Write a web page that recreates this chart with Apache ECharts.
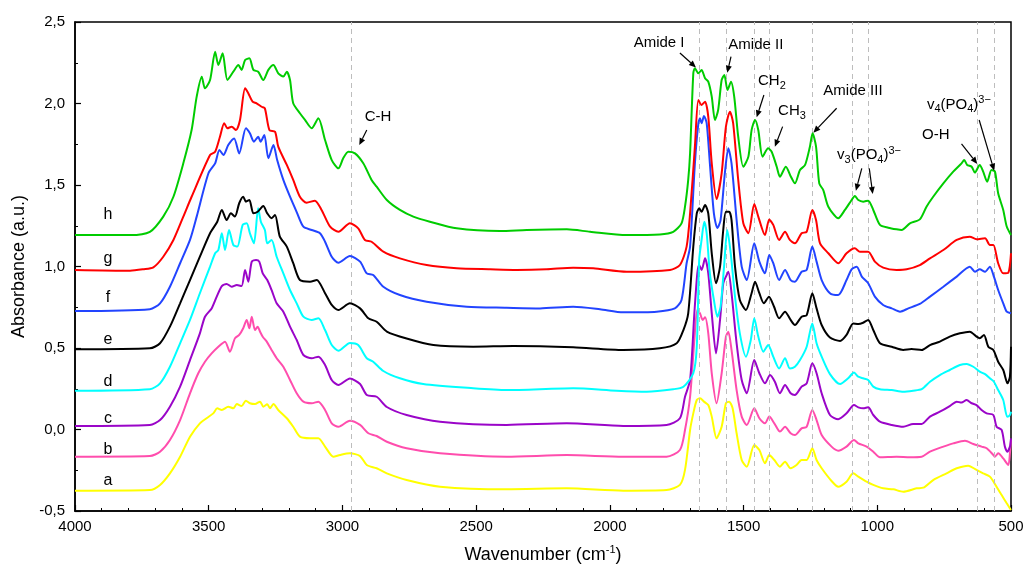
<!DOCTYPE html>
<html>
<head>
<meta charset="utf-8">
<script src="https://cdn.jsdelivr.net/npm/echarts@6/dist/echarts.min.js"></script>
<style>
  html, body { margin: 0; padding: 0; background: #fff; }
  #chart { width: 1027px; height: 572px; }
</style>
</head>
<body>
<div id="chart"></div>
<script>
// FTIR spectra of eight samples (a–h), stacked with vertical offsets.
const sampleNames = ['a', 'b', 'c', 'd', 'e', 'f', 'g', 'h'];

// [wavenumber (cm-1), absorbance (a.u.)]
const spectrumA = [[4000,-0.375],[3720,-0.371],[3682,-0.340],[3645,-0.269],[3607,-0.167],[3570,-0.044],[3533,0.038],[3508,0.069],[3483,0.099],[3468,0.130],[3451,0.120],[3427,0.140],[3408,0.130],[3395,0.156],[3377,0.144],[3361,0.177],[3346,0.161],[3327,0.156],[3308,0.171],[3296,0.140],[3281,0.155],[3271,0.130],[3258,0.156],[3240,0.120],[3208,0.069],[3184,0.017],[3159,-0.044],[3121,-0.054],[3090,-0.054],[3065,-0.105],[3034,-0.167],[3009,-0.156],[2972,-0.146],[2934,-0.163],[2909,-0.218],[2872,-0.238],[2834,-0.269],[2760,-0.310],[2635,-0.351],[2386,-0.367],[2161,-0.361],[1950,-0.375],[1788,-0.371],[1738,-0.340],[1719,-0.248],[1700,-0.003],[1688,0.099],[1675,0.181],[1663,0.191],[1648,0.171],[1632,0.150],[1619,0.079],[1601,-0.054],[1582,0.017],[1566,0.161],[1554,0.171],[1541,0.130],[1526,-0.023],[1507,-0.187],[1488,-0.228],[1460,-0.095],[1441,-0.126],[1420,-0.207],[1404,-0.156],[1385,-0.187],[1364,-0.228],[1345,-0.198],[1324,-0.238],[1302,-0.218],[1283,-0.187],[1264,-0.187],[1243,-0.115],[1227,-0.187],[1208,-0.238],[1171,-0.316],[1146,-0.351],[1115,-0.320],[1090,-0.269],[1071,-0.289],[1040,-0.320],[1015,-0.340],[978,-0.361],[940,-0.367],[903,-0.382],[853,-0.361],[828,-0.357],[791,-0.310],[741,-0.269],[703,-0.238],[660,-0.222],[629,-0.248],[604,-0.269],[579,-0.289],[554,-0.351],[535,-0.402],[516,-0.453],[500,-0.494]];

const spectrumB = [[4000,-0.167],[3720,-0.163],[3682,-0.136],[3645,-0.064],[3607,0.058],[3570,0.222],[3539,0.345],[3514,0.416],[3489,0.467],[3464,0.508],[3439,0.539],[3421,0.477],[3402,0.559],[3386,0.580],[3371,0.621],[3358,0.672],[3348,0.621],[3339,0.692],[3327,0.610],[3317,0.631],[3308,0.600],[3298,0.569],[3283,0.539],[3265,0.488],[3246,0.437],[3221,0.385],[3196,0.304],[3171,0.222],[3146,0.171],[3115,0.161],[3090,0.171],[3065,0.120],[3040,0.038],[3015,0.017],[2972,0.054],[2934,0.028],[2903,-0.023],[2872,-0.040],[2834,-0.075],[2760,-0.115],[2635,-0.146],[2386,-0.167],[2161,-0.157],[1950,-0.167],[1788,-0.167],[1738,-0.126],[1719,-0.003],[1700,0.201],[1684,0.549],[1673,0.733],[1663,0.713],[1653,0.672],[1644,0.688],[1632,0.590],[1619,0.345],[1601,0.161],[1582,0.345],[1566,0.569],[1557,0.600],[1545,0.488],[1526,0.242],[1507,0.079],[1488,0.028],[1460,0.130],[1441,0.069],[1420,0.038],[1404,0.079],[1385,0.038],[1364,-0.013],[1345,0.017],[1324,-0.023],[1308,-0.034],[1283,0.007],[1264,0.017],[1243,0.120],[1227,0.058],[1208,-0.034],[1171,-0.105],[1146,-0.130],[1115,-0.105],[1087,-0.064],[1071,-0.085],[1040,-0.105],[1015,-0.136],[990,-0.170],[928,-0.167],[878,-0.170],[834,-0.167],[803,-0.136],[753,-0.105],[716,-0.085],[672,-0.069],[641,-0.089],[610,-0.105],[591,-0.115],[566,-0.156],[560,-0.167],[548,-0.146],[529,-0.177],[510,-0.218],[504,-0.146],[500,-0.064]];

const spectrumC = [[4000,0.022],[3720,0.028],[3682,0.058],[3645,0.140],[3607,0.263],[3570,0.426],[3533,0.590],[3514,0.692],[3489,0.743],[3470,0.815],[3451,0.880],[3433,0.893],[3414,0.876],[3395,0.887],[3377,0.880],[3364,0.979],[3352,0.907],[3339,1.030],[3323,1.040],[3311,1.030],[3298,0.958],[3281,0.917],[3265,0.856],[3246,0.774],[3221,0.723],[3196,0.631],[3171,0.549],[3146,0.457],[3115,0.437],[3090,0.447],[3065,0.396],[3040,0.304],[3015,0.273],[2972,0.313],[2934,0.279],[2909,0.212],[2872,0.201],[2834,0.138],[2760,0.089],[2635,0.048],[2386,0.028],[2161,0.038],[1950,0.022],[1788,0.028],[1738,0.069],[1719,0.201],[1700,0.304],[1684,0.713],[1673,0.958],[1666,1.009],[1657,0.979],[1644,1.050],[1632,0.958],[1619,0.713],[1603,0.467],[1588,0.672],[1576,0.897],[1566,0.938],[1557,0.968],[1545,0.836],[1526,0.529],[1507,0.304],[1488,0.222],[1460,0.426],[1441,0.345],[1420,0.283],[1401,0.334],[1383,0.293],[1364,0.222],[1345,0.273],[1324,0.222],[1308,0.212],[1283,0.263],[1264,0.283],[1243,0.406],[1227,0.345],[1208,0.222],[1177,0.089],[1146,0.063],[1115,0.099],[1087,0.150],[1071,0.136],[1053,0.130],[1034,0.136],[1015,0.089],[990,0.048],[946,0.028],[903,0.017],[866,0.034],[834,0.034],[803,0.079],[766,0.109],[729,0.144],[703,0.171],[685,0.165],[666,0.181],[647,0.161],[629,0.150],[610,0.120],[591,0.099],[566,0.089],[554,0.017],[535,-0.003],[523,-0.105],[514,-0.136],[504,-0.105],[500,-0.054]];

const spectrumD = [[4000,0.238],[3720,0.247],[3682,0.283],[3645,0.385],[3607,0.529],[3570,0.672],[3533,0.836],[3495,0.999],[3476,1.081],[3464,1.101],[3451,1.204],[3439,1.101],[3424,1.224],[3408,1.132],[3393,1.122],[3373,1.255],[3358,1.265],[3346,1.204],[3331,1.142],[3315,1.357],[3305,1.275],[3290,1.224],[3281,1.142],[3265,1.163],[3246,1.060],[3221,0.958],[3196,0.856],[3171,0.774],[3146,0.692],[3115,0.672],[3090,0.682],[3065,0.610],[3040,0.518],[3015,0.483],[2972,0.531],[2941,0.518],[2909,0.437],[2885,0.416],[2847,0.359],[2785,0.314],[2698,0.279],[2511,0.253],[2386,0.242],[2137,0.253],[1975,0.238],[1862,0.232],[1763,0.247],[1725,0.262],[1688,0.345],[1675,0.508],[1666,1.040],[1657,1.163],[1647,1.275],[1638,1.204],[1626,0.958],[1611,0.795],[1598,0.692],[1586,0.754],[1573,0.999],[1561,1.224],[1548,1.081],[1532,0.815],[1514,0.590],[1491,0.447],[1473,0.549],[1460,0.682],[1445,0.570],[1426,0.477],[1408,0.518],[1389,0.447],[1367,0.375],[1345,0.437],[1327,0.375],[1308,0.385],[1289,0.426],[1264,0.508],[1243,0.651],[1227,0.529],[1208,0.447],[1177,0.340],[1139,0.279],[1109,0.314],[1087,0.349],[1071,0.324],[1053,0.314],[1034,0.304],[1015,0.263],[990,0.247],[946,0.242],[903,0.232],[866,0.238],[834,0.247],[803,0.293],[766,0.334],[729,0.365],[691,0.396],[666,0.402],[641,0.385],[617,0.355],[597,0.340],[579,0.314],[564,0.293],[548,0.242],[529,0.181],[514,0.078],[504,0.089],[500,0.109]];

const spectrumE = [[4000,0.492],[3720,0.498],[3682,0.529],[3645,0.631],[3607,0.774],[3570,0.917],[3533,1.060],[3495,1.204],[3468,1.275],[3451,1.347],[3433,1.285],[3417,1.326],[3402,1.306],[3386,1.388],[3371,1.428],[3361,1.398],[3348,1.408],[3333,1.326],[3317,1.336],[3296,1.371],[3281,1.326],[3265,1.296],[3252,1.316],[3234,1.183],[3208,1.122],[3184,1.020],[3159,0.917],[3121,0.907],[3096,0.917],[3065,0.836],[3040,0.764],[3015,0.733],[2972,0.774],[2934,0.743],[2903,0.682],[2872,0.661],[2834,0.601],[2760,0.558],[2660,0.518],[2511,0.508],[2361,0.512],[2137,0.504],[1950,0.488],[1813,0.498],[1750,0.529],[1725,0.610],[1707,0.713],[1688,1.122],[1675,1.326],[1666,1.357],[1657,1.336],[1644,1.377],[1632,1.326],[1619,1.081],[1603,0.897],[1588,0.999],[1576,1.224],[1566,1.336],[1554,1.336],[1545,1.285],[1532,0.999],[1514,0.795],[1491,0.733],[1470,0.836],[1457,0.907],[1441,0.836],[1424,0.774],[1405,0.815],[1386,0.753],[1367,0.682],[1345,0.723],[1324,0.672],[1308,0.641],[1283,0.692],[1264,0.702],[1243,0.836],[1227,0.743],[1208,0.641],[1177,0.564],[1139,0.543],[1115,0.580],[1090,0.651],[1071,0.647],[1053,0.655],[1034,0.672],[1015,0.610],[990,0.529],[946,0.508],[903,0.488],[872,0.494],[834,0.488],[803,0.518],[766,0.539],[729,0.570],[691,0.590],[654,0.600],[629,0.570],[617,0.560],[601,0.580],[585,0.508],[566,0.488],[548,0.416],[529,0.365],[513,0.283],[504,0.324],[500,0.508]];

const spectrumF = [[4000,0.727],[3720,0.738],[3682,0.774],[3645,0.876],[3607,1.020],[3570,1.163],[3545,1.306],[3501,1.572],[3476,1.633],[3460,1.715],[3445,1.684],[3427,1.745],[3405,1.786],[3386,1.694],[3361,1.848],[3346,1.817],[3331,1.766],[3315,1.796],[3306,1.766],[3292,1.807],[3277,1.664],[3258,1.745],[3244,1.653],[3221,1.531],[3196,1.428],[3171,1.334],[3146,1.244],[3115,1.224],[3084,1.204],[3065,1.152],[3040,1.060],[3015,1.023],[2972,1.064],[2934,1.030],[2909,0.958],[2885,0.948],[2847,0.876],[2785,0.825],[2685,0.784],[2535,0.753],[2386,0.747],[2261,0.743],[2137,0.753],[2037,0.738],[1950,0.719],[1825,0.723],[1757,0.743],[1732,0.795],[1713,1.020],[1700,1.122],[1682,1.633],[1669,1.879],[1663,1.909],[1657,1.879],[1648,1.923],[1638,1.879],[1626,1.633],[1611,1.326],[1598,1.236],[1586,1.285],[1570,1.572],[1557,1.725],[1545,1.633],[1526,1.285],[1507,0.999],[1488,0.917],[1460,1.142],[1441,1.030],[1420,0.958],[1404,1.071],[1389,1.020],[1367,0.917],[1345,0.979],[1324,0.917],[1308,0.907],[1283,0.968],[1264,0.979],[1243,1.122],[1227,1.030],[1208,0.917],[1177,0.836],[1146,0.825],[1115,0.917],[1096,0.983],[1077,0.999],[1058,0.938],[1034,0.897],[1009,0.815],[978,0.764],[946,0.743],[915,0.723],[884,0.743],[841,0.770],[803,0.815],[753,0.876],[703,0.938],[654,0.999],[635,0.968],[617,0.983],[597,0.968],[579,0.999],[564,0.938],[548,0.856],[529,0.774],[516,0.723],[500,0.713]];

const spectrumG = [[4000,0.979],[3794,0.974],[3745,0.983],[3707,0.995],[3670,1.060],[3632,1.163],[3595,1.306],[3564,1.428],[3495,1.684],[3476,1.704],[3458,1.796],[3442,1.879],[3430,1.848],[3414,1.858],[3398,1.837],[3383,1.899],[3364,2.093],[3352,2.063],[3336,2.011],[3321,2.001],[3302,1.980],[3290,1.970],[3273,1.837],[3252,1.827],[3240,1.735],[3208,1.623],[3184,1.531],[3159,1.428],[3134,1.391],[3103,1.404],[3078,1.347],[3046,1.244],[3015,1.213],[2972,1.265],[2941,1.234],[2916,1.163],[2891,1.152],[2847,1.091],[2785,1.050],[2685,1.009],[2573,0.989],[2448,0.983],[2348,0.979],[2236,0.983],[2137,0.993],[2062,0.989],[1937,0.968],[1775,0.979],[1738,1.009],[1713,1.122],[1700,1.326],[1682,1.735],[1669,2.022],[1657,1.991],[1644,2.011],[1632,1.919],[1619,1.633],[1601,1.414],[1582,1.572],[1566,1.858],[1551,1.950],[1539,1.879],[1520,1.531],[1501,1.265],[1482,1.204],[1460,1.384],[1445,1.306],[1420,1.193],[1404,1.289],[1389,1.255],[1367,1.163],[1345,1.213],[1327,1.163],[1308,1.142],[1283,1.204],[1264,1.213],[1243,1.347],[1229,1.285],[1214,1.142],[1183,1.081],[1146,1.020],[1115,1.081],[1084,1.112],[1065,1.091],[1034,1.091],[1009,1.030],[978,0.993],[928,0.979],[890,0.983],[841,1.009],[803,1.050],[753,1.101],[703,1.163],[654,1.183],[629,1.167],[597,1.173],[579,1.132],[566,1.132],[548,1.020],[529,0.958],[510,0.962],[500,1.081]];

const spectrumH = [[4000,1.193],[3794,1.193],[3720,1.213],[3670,1.306],[3632,1.428],[3595,1.633],[3564,1.837],[3545,2.042],[3526,2.164],[3514,2.093],[3495,2.144],[3476,2.318],[3464,2.236],[3448,2.308],[3430,2.144],[3408,2.195],[3389,2.236],[3377,2.206],[3364,2.267],[3348,2.277],[3333,2.206],[3315,2.195],[3296,2.144],[3277,2.206],[3258,2.236],[3240,2.185],[3221,2.165],[3208,2.195],[3196,2.144],[3184,2.001],[3159,1.940],[3140,1.899],[3115,1.848],[3090,1.909],[3065,1.776],[3040,1.653],[3015,1.602],[2997,1.664],[2978,1.704],[2953,1.694],[2922,1.633],[2891,1.531],[2872,1.490],[2834,1.408],[2785,1.347],[2735,1.306],[2673,1.275],[2573,1.234],[2411,1.218],[2311,1.224],[2161,1.228],[2074,1.213],[1937,1.193],[1813,1.197],[1763,1.213],[1732,1.265],[1719,1.367],[1707,1.531],[1700,1.696],[1688,2.185],[1682,2.216],[1669,2.185],[1657,2.206],[1644,2.155],[1632,2.134],[1619,2.042],[1607,1.899],[1595,1.960],[1582,2.144],[1572,2.175],[1560,2.083],[1547,2.134],[1535,2.042],[1520,1.796],[1501,1.612],[1482,1.674],[1470,1.837],[1457,1.899],[1445,1.837],[1429,1.674],[1408,1.725],[1395,1.704],[1376,1.612],[1364,1.551],[1342,1.612],[1323,1.551],[1308,1.510],[1289,1.592],[1270,1.623],[1252,1.735],[1242,1.817],[1229,1.735],[1217,1.510],[1202,1.469],[1183,1.367],[1146,1.296],[1121,1.347],[1096,1.408],[1084,1.433],[1071,1.408],[1053,1.398],[1034,1.404],[1015,1.347],[990,1.255],[959,1.238],[928,1.228],[909,1.224],[878,1.265],[841,1.289],[816,1.367],[791,1.428],[753,1.510],[716,1.582],[685,1.633],[675,1.653],[664,1.623],[647,1.612],[635,1.576],[617,1.623],[604,1.582],[589,1.520],[573,1.592],[560,1.582],[548,1.449],[529,1.347],[516,1.245],[500,1.193]];

const spectra = [spectrumA, spectrumB, spectrumC, spectrumD, spectrumE, spectrumF, spectrumG, spectrumH];

// Characteristic band positions (cm-1), drawn as dashed guides
const bandPositions = [2968, 1666, 1563, 1461, 1405, 1243, 1094, 1034, 628, 563];

// Axis ticks
const xTicks = [4000, 3500, 3000, 2500, 2000, 1500, 1000, 500];
const yTicks = [-0.5, 0, 0.5, 1.0, 1.5, 2.0, 2.5];

const colors = ['#FFFF00', '#FF4DAD', '#9A05C8', '#00FFFF', '#000000', '#2244FF', '#FF0000', '#00CC00'];
const FONT = '"Liberation Sans", Arial, sans-serif';

// Sample letters placed just above each trace, near the left edge
const letterAnchors = [[3877, -0.316], [3877, -0.125], [3877, 0.065], [3877, 0.292],
                       [3877, 0.549], [3877, 0.807], [3877, 1.046], [3877, 1.316]];

// Band annotations: text anchor and arrows (tail -> head), in data coordinates
const notes = [
  { text: '{m|C-H}', at: [2867, 1.917], arrows: [[[2909, 1.837], [2937, 1.745]]] },
  { text: '{m|Amide I}', at: [1816, 2.371], arrows: [[[1738, 2.310], [1678, 2.221]]] },
  { text: '{m|Amide II}', at: [1454, 2.359], arrows: [[[1547, 2.287], [1561, 2.189]]] },
  { text: '{m|CH}{sub|2}', at: [1394, 2.138], arrows: [[[1424, 2.052], [1451, 1.915]]] },
  { text: '{m|CH}{sub|3}', at: [1319, 1.954], arrows: [[[1354, 1.858], [1383, 1.735]]] },
  { text: '{m|Amide III}', at: [1091, 2.077], arrows: [[[1152, 1.971], [1239, 1.821]]] },
  { text: '{m|v}{sub|3}{m|(PO}{sub|4}{m|)}{sup|3−}', at: [1031, 1.684],
    arrows: [[[1058, 1.602], [1080, 1.465]], [[1030, 1.602], [1017, 1.445]]] },
  { text: '{m|v}{sub|4}{m|(PO}{sub|4}{m|)}{sup|3−}', at: [695, 1.991], arrows: [[[619, 1.899], [563, 1.588]]] },
  { text: '{m|O-H}', at: [781, 1.807], arrows: [[[685, 1.752], [626, 1.629]]] }
];

const richStyles = {
  m: { fontSize: 15, fontFamily: FONT, color: '#000', lineHeight: 20 },
  sub: { fontSize: 11, fontFamily: FONT, color: '#000', lineHeight: 11, verticalAlign: 'bottom' },
  sup: { fontSize: 11, fontFamily: FONT, color: '#000', lineHeight: 11, verticalAlign: 'top' }
};

const chart = echarts.init(document.getElementById('chart'), null, { renderer: 'canvas' });

const fmtComma = v => (Math.round(v * 10) / 10).toFixed(1).replace('.', ',');

const series = spectra.map((d, i) => ({
  name: sampleNames[i],
  type: 'line',
  data: d,
  showSymbol: false,
  symbol: 'none',
  smooth: 0.25,
  lineStyle: { color: colors[i], width: 2 },
  z: 3 + i,
  silent: true
}));

series.unshift({
  type: 'line',
  data: [],
  z: 1,
  silent: true,
  markLine: {
    silent: true,
    symbol: ['none', 'none'],
    label: { show: false },
    lineStyle: { color: '#BDBDBD', type: [5, 4], width: 1 },
    data: bandPositions.map(v => ({ xAxis: v }))
  }
});

chart.setOption({
  animation: false,
  backgroundColor: '#fff',
  grid: { left: 75, right: 16, top: 22, bottom: 61, show: true, borderColor: '#000', borderWidth: 1.5 },
  xAxis: {
    type: 'value', min: 500, max: 4000, interval: 500, inverse: true,
    name: '{n|Wavenumber (cm}{s|-1}{n|)}', nameLocation: 'middle', nameGap: 33,
    nameTextStyle: { rich: {
      n: { fontSize: 18, fontFamily: FONT, color: '#000', lineHeight: 22 },
      s: { fontSize: 11, fontFamily: FONT, color: '#000', lineHeight: 11, verticalAlign: 'top' }
    } },
    axisLine: { onZero: false, lineStyle: { color: '#000', width: 1.5 } },
    axisTick: { inside: true, length: 6, lineStyle: { color: '#000', width: 1.2 } },
    minorTick: { show: true, splitNumber: 5, length: 3, lineStyle: { color: '#000', width: 1 } },
    splitLine: { show: false },
    axisLabel: { color: '#000', fontSize: 15, fontFamily: FONT, margin: 8,
      formatter: v => xTicks.includes(v) ? String(v) : '' }
  },
  yAxis: {
    type: 'value', min: -0.5, max: 2.5, interval: 0.5,
    name: 'Absorbance (a.u.)', nameLocation: 'middle', nameGap: 42,
    nameTextStyle: { fontSize: 18, fontFamily: FONT, color: '#000' },
    axisLine: { onZero: false, lineStyle: { color: '#000', width: 1.5 } },
    axisTick: { inside: true, length: 6, lineStyle: { color: '#000', width: 1.2 } },
    minorTick: { show: true, splitNumber: 2, length: 3, lineStyle: { color: '#000', width: 1 } },
    splitLine: { show: false },
    axisLabel: { color: '#000', fontSize: 15, fontFamily: FONT, margin: 10,
      formatter: v => yTicks.some(t => Math.abs(t - v) < 1e-6) ? fmtComma(v) : '' }
  },
  series: series
});

// Overlay text labels and arrows, positioned through the chart's own scales
function toPx(p) { return chart.convertToPixel({ gridIndex: 0 }, p); }

const graphics = [];
letterAnchors.forEach((p, i) => {
  const [x, y] = toPx(p);
  graphics.push({ type: 'text', x: x, y: y, z: 50,
    style: { text: sampleNames[i], fill: '#000', fontSize: 16, fontFamily: FONT, align: 'center', verticalAlign: 'middle' } });
});

notes.forEach(n => {
  const [x, y] = toPx(n.at);
  graphics.push({ type: 'text', x: x, y: y, z: 50,
    style: { text: n.text, rich: richStyles, align: 'center', verticalAlign: 'middle' } });
  n.arrows.forEach(a => {
    const [x1, y1] = toPx(a[0]);
    const [x2, y2] = toPx(a[1]);
    const ang = Math.atan2(y2 - y1, x2 - x1);
    const L = 7, W = 3;
    const bx = x2 - L * Math.cos(ang), by = y2 - L * Math.sin(ang);
    graphics.push({ type: 'line', z: 50,
      shape: { x1: x1, y1: y1, x2: bx, y2: by },
      style: { stroke: '#000', lineWidth: 1.2 } });
    graphics.push({ type: 'polygon', z: 50,
      shape: { points: [[x2, y2],
        [bx + W * Math.sin(ang), by - W * Math.cos(ang)],
        [bx - W * Math.sin(ang), by + W * Math.cos(ang)]] },
      style: { fill: '#000' } });
  });
});

chart.setOption({ graphic: graphics });
</script>
</body>
</html>
